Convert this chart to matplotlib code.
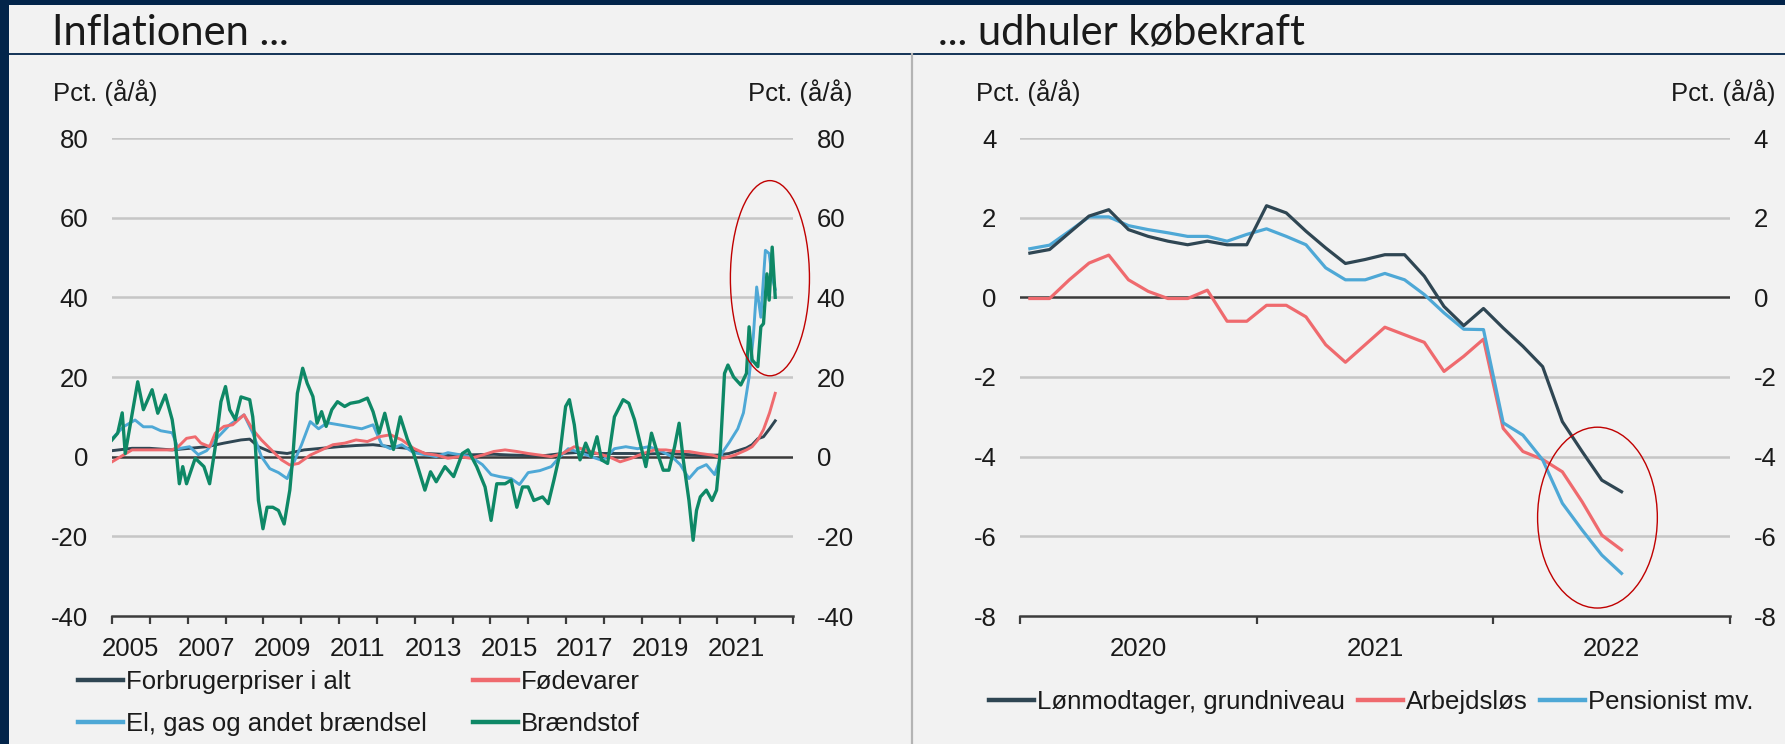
import numpy as np
import pandas as pd
import matplotlib
matplotlib.use("Agg")
import matplotlib.pyplot as plt
from matplotlib.patches import Ellipse, Rectangle
from matplotlib.lines import Line2D

plt.rcParams['font.family'] = ['Liberation Sans', 'DejaVu Sans']
plt.rcParams['axes.unicode_minus'] = False

# ---------------- data ----------------
left_title = "Inflationen ..."
right_title = "... udhuler købekraft"
unit_label = "Pct. (å/å)"

left_names = ["Forbrugerpriser i alt", "Fødevarer", "El, gas og andet brændsel", "Brændstof"]
right_names = ["Lønmodtager, grundniveau", "Arbejdsløs", "Pensionist mv."]

left_yticks = [-40, -20, 0, 20, 40, 60, 80]
right_yticks = [-8, -6, -4, -2, 0, 2, 4]
left_years = list(range(2005, 2024))
left_year_labels = ["2005", "2007", "2009", "2011", "2013", "2015", "2017", "2019", "2021"]
right_years = [2020, 2021, 2022, 2023]
right_year_labels = ["2020", "2021", "2022"]

# Forbrugerpriser i alt (decimal year, pct.)
cpi_t = [2005.00, 2005.53, 2005.99, 2006.59, 2007.05, 2007.50, 2007.96, 2008.41, 2008.64, 2008.87,
         2009.17, 2009.63, 2010.08, 2010.54, 2010.99, 2011.45, 2011.90, 2012.36, 2012.82, 2013.27,
         2013.73, 2014.18, 2014.64, 2015.09, 2015.55, 2016.00, 2016.46, 2016.91, 2017.37, 2017.82,
         2018.28, 2018.73, 2019.19, 2019.64, 2020.10, 2020.55, 2021.01, 2021.31, 2021.54, 2021.77,
         2021.92, 2022.07, 2022.22, 2022.38, 2022.53]
cpi_v = [1.5, 2.1, 2.1, 1.7, 2.1, 2.5, 3.4, 4.2, 4.4, 2.5,
         1.3, 0.8, 1.7, 2.1, 2.5, 2.8, 3.0, 2.5, 2.1, 0.8,
         0.6, 0.4, 0.5, 0.6, 0.4, 0.3, 0.3, 0.8, 1.1, 0.8,
         0.8, 0.8, 0.7, 0.8, 0.6, 0.3, 0.4, 0.8, 1.5, 2.2,
         3.0, 4.5, 5.0, 7.0, 9.0]

# Fødevarer
food_t = [2005.00, 2005.30, 2005.53, 2006.14, 2006.59, 2006.75, 2006.97, 2007.20, 2007.35, 2007.58,
          2007.73, 2007.96, 2008.19, 2008.49, 2008.72, 2008.95, 2009.17, 2009.48, 2009.70, 2009.93,
          2010.24, 2010.54, 2010.84, 2011.15, 2011.45, 2011.75, 2012.06, 2012.36, 2012.66, 2012.97,
          2013.27, 2013.57, 2013.88, 2014.18, 2014.48, 2014.79, 2015.09, 2015.39, 2015.70, 2016.00,
          2016.31, 2016.61, 2016.91, 2017.22, 2017.52, 2017.82, 2018.13, 2018.43, 2018.73, 2019.04,
          2019.34, 2019.64, 2019.95, 2020.25, 2020.55, 2020.86, 2021.16, 2021.46, 2021.77, 2021.92,
          2022.07, 2022.22, 2022.38, 2022.53]
food_v = [-1.3, 0.4, 1.7, 1.7, 1.7, 2.5, 4.6, 5.0, 3.4, 2.5,
          5.9, 7.6, 8.0, 10.5, 6.8, 4.2, 2.1, -0.8, -2.1, -1.7,
          0.4, 1.7, 3.0, 3.4, 4.2, 3.8, 5.0, 5.5, 4.2, 2.1,
          0.8, 0.4, -0.4, 0.0, -0.4, 0.4, 1.3, 1.7, 1.3, 0.8,
          0.4, 0.0, 0.8, 2.5, 1.7, 0.8, 0.0, -1.3, -0.4, 0.8,
          1.7, 1.7, 1.3, 1.3, 0.8, 0.4, -0.4, 0.4, 1.7, 2.5,
          4.2, 6.8, 11.0, 15.9]

# El, gas og andet brændsel
el_t = [2005.00, 2005.30, 2005.61, 2005.83, 2006.06, 2006.29, 2006.59, 2006.75, 2007.05, 2007.28,
        2007.50, 2007.81, 2008.11, 2008.49, 2008.72, 2008.95, 2009.17, 2009.40, 2009.63, 2009.78,
        2010.01, 2010.24, 2010.46, 2010.69, 2011.00, 2011.30, 2011.60, 2011.90, 2012.13, 2012.36,
        2012.66, 2012.97, 2013.27, 2013.57, 2013.88, 2014.18, 2014.48, 2014.79, 2015.02, 2015.24,
        2015.55, 2015.77, 2016.00, 2016.31, 2016.61, 2016.84, 2017.06, 2017.37, 2017.67, 2017.97,
        2018.28, 2018.58, 2018.89, 2019.19, 2019.49, 2019.80, 2020.02, 2020.25, 2020.48, 2020.71,
        2020.93, 2021.13, 2021.31, 2021.54, 2021.69, 2021.84, 2021.95, 2022.04, 2022.15, 2022.27,
        2022.37, 2022.45, 2022.53]
el_v = [4.5, 7.5, 9.2, 7.5, 7.5, 6.5, 6.0, 2.0, 2.5, 0.5,
        1.5, 5.0, 8.0, 10.5, 6.0, 0.0, -3.0, -4.0, -5.5, -2.0,
        3.0, 8.8, 7.0, 8.5, 8.0, 7.5, 7.0, 8.0, 3.0, 2.0,
        3.0, 1.0, 0.5, 0.0, 1.0, 0.5, 0.0, -2.0, -4.5, -5.0,
        -5.5, -7.0, -4.0, -3.5, -2.5, 0.0, 2.0, 1.0, 0.0, -1.0,
        2.0, 2.5, 2.0, 2.5, 1.5, 0.0, -2.0, -5.5, -3.0, -2.0,
        -4.5, 1.0, 3.5, 7.0, 11.0, 20.0, 30.0, 42.6, 35.0, 51.8,
        51.0, 45.0, 42.0]

# Brændstof
fuel_t = [2005.00, 2005.15, 2005.27, 2005.35, 2005.68, 2005.83, 2006.06, 2006.21, 2006.41, 2006.59,
          2006.67, 2006.78, 2006.87, 2006.97, 2007.20, 2007.43, 2007.58, 2007.73, 2007.88, 2008.00,
          2008.11, 2008.26, 2008.41, 2008.64, 2008.72, 2008.79, 2008.87, 2008.99, 2009.10, 2009.25,
          2009.40, 2009.55, 2009.70, 2009.78, 2009.90, 2010.04, 2010.16, 2010.31, 2010.42, 2010.54,
          2010.66, 2010.81, 2010.96, 2011.15, 2011.30, 2011.53, 2011.75, 2011.90, 2012.06, 2012.21,
          2012.44, 2012.62, 2012.81, 2012.97, 2013.27, 2013.42, 2013.57, 2013.80, 2014.03, 2014.26,
          2014.41, 2014.64, 2014.86, 2015.02, 2015.17, 2015.39, 2015.55, 2015.70, 2015.85, 2016.00,
          2016.15, 2016.38, 2016.53, 2016.68, 2016.84, 2016.99, 2017.09, 2017.22, 2017.29, 2017.37,
          2017.52, 2017.67, 2017.82, 2017.94, 2018.10, 2018.28, 2018.51, 2018.66, 2018.81, 2018.96,
          2019.11, 2019.26, 2019.42, 2019.57, 2019.72, 2019.87, 2019.99, 2020.10, 2020.25, 2020.36,
          2020.45, 2020.55, 2020.71, 2020.86, 2020.98, 2021.08, 2021.19, 2021.28, 2021.43, 2021.62,
          2021.77, 2021.84, 2021.92, 2022.00, 2022.07, 2022.15, 2022.22, 2022.31, 2022.37, 2022.45,
          2022.53]
fuel_v = [4.2, 5.9, 11.0, 0.8, 18.8, 11.8, 16.8, 10.9, 15.5, 9.3,
          4.0, -6.8, -2.5, -6.8, -0.4, -2.5, -6.8, 2.5, 13.8, 17.6,
          11.8, 9.3, 15.0, 14.3, 10.0, 2.6, -11.0, -18.1, -12.7, -12.7,
          -13.5, -16.9, -8.4, 0.0, 15.9, 22.2, 18.4, 15.1, 8.4, 11.3,
          7.6, 11.8, 13.8, 12.6, 13.4, 13.8, 14.7, 11.3, 5.9, 10.9,
          1.8, 10.0, 4.3, 0.9, -8.4, -3.8, -6.3, -2.5, -5.0, 0.8,
          1.7, -2.5, -7.6, -16.0, -6.8, -6.8, -5.9, -12.7, -7.6, -7.6,
          -11.0, -10.1, -11.8, -5.9, 0.8, 12.6, 14.3, 8.0, 2.6, -0.8,
          3.4, 0.0, 5.0, -0.8, -1.7, 10.0, 14.3, 13.4, 9.3, 3.4,
          -2.5, 5.9, 0.8, -3.4, -3.4, 2.5, 8.4, -0.8, -11.0, -21.0,
          -13.5, -10.1, -8.4, -11.0, -8.4, 1.7, 20.9, 23.0, 20.0, 18.0,
          20.9, 32.6, 24.3, 23.4, 22.6, 32.6, 33.4, 45.9, 39.3, 52.6,
          40.0]

# Right panel: monthly, Jan 2020 - Jul 2022
right_months = pd.period_range("2020-01", "2022-07", freq="M")
lon_v = [1.11, 1.20, 1.62, 2.04, 2.20, 1.70, 1.53, 1.41, 1.32, 1.41,
         1.32, 1.32, 2.30, 2.12, 1.66, 1.24, 0.85, 0.95, 1.07, 1.07,
         0.53, -0.23, -0.71, -0.28, -0.77, -1.23, -1.74, -3.12, -3.87, -4.59,
         -4.88]
arb_v = [-0.03, -0.03, 0.44, 0.86, 1.06, 0.44, 0.15, -0.03, -0.03, 0.18,
         -0.60, -0.60, -0.20, -0.20, -0.49, -1.19, -1.63, -1.19, -0.75, -0.94,
         -1.13, -1.86, -1.48, -1.05, -3.29, -3.87, -4.07, -4.38, -5.13, -5.97,
         -6.34]
pen_v = [1.22, 1.31, 1.66, 2.02, 2.02, 1.80, 1.70, 1.62, 1.53, 1.53,
         1.41, 1.58, 1.72, 1.53, 1.32, 0.74, 0.44, 0.44, 0.60, 0.44,
         0.07, -0.39, -0.80, -0.81, -3.15, -3.46, -4.08, -5.17, -5.84, -6.47,
         -6.93]

# ---------------- style ----------------
W, H, DPI = 1785, 744, 100
NAVY = '#02244a'
BG = '#f2f2f2'
C_DARK = '#2f4653'
C_RED = '#ef6a6e'
C_BLUE = '#4ea8d6'
C_GREEN = '#0e8866'
TXT = '#1a1a1a'
FS = 18.5

fig = plt.figure(figsize=(W / DPI, H / DPI), dpi=DPI)
fig.patch.set_facecolor(NAVY)
fig.add_artist(Rectangle((9 / W, 0), 1 - 9 / W, 1 - 5 / H, transform=fig.transFigure,
                         facecolor=BG, edgecolor='none', zorder=0))
fig.add_artist(Line2D([9 / W, 1], [1 - 54 / H] * 2, transform=fig.transFigure,
                      color=NAVY, lw=1.3, zorder=1))
fig.add_artist(Line2D([912 / W] * 2, [0, 1 - 54 / H], transform=fig.transFigure,
                      color='#b4b4b4', lw=1.6, zorder=1))


def px_rect(x0, x1, ytop, ybot):
    return [x0 / W, 1 - ybot / H, (x1 - x0) / W, (ybot - ytop) / H]


def style(ax, yticks, years, labels, label_pos):
    ax.set_facecolor('none')
    ax.set_ylim(yticks[0], yticks[-1])
    ax.set_yticks(yticks)
    ax.set_xlim(years[0], years[-1])
    for s in ['top', 'left', 'right']:
        ax.spines[s].set_visible(False)
    ax.spines['bottom'].set_color('#3c3c3c')
    ax.spines['bottom'].set_linewidth(1.8)
    ax.spines['bottom'].set_zorder(5)
    ax.tick_params(axis='y', left=False, right=False, labelleft=True, labelright=True,
                   length=0, pad=17, labelsize=FS, labelcolor=TXT)
    ax.set_xticks(years)
    ax.set_xticklabels([])
    ax.set_xticks(label_pos, minor=True)
    ax.set_xticklabels(labels, minor=True)
    ax.tick_params(axis='x', which='major', direction='out', length=6, width=1.6, color='#3c3c3c')
    ax.tick_params(axis='x', which='minor', length=0, pad=15, labelsize=FS, labelcolor=TXT)
    for v in yticks[1:]:
        if v == 0:
            ax.axhline(0, color='#3a3a3a', lw=1.8, zorder=1.5)
        else:
            ax.axhline(v, color='#c6c6c6', lw=1.8, zorder=1)


# ---------- left panel ----------
ax1 = fig.add_axes(px_rect(112, 793, 138, 616))
style(ax1, left_yticks, left_years, left_year_labels,
      [int(s) + 0.5 for s in left_year_labels])
lw = 2.1
l_cpi, = ax1.plot(cpi_t, cpi_v, color=C_DARK, lw=lw, zorder=3)
l_el, = ax1.plot(el_t, el_v, color=C_BLUE, lw=lw, zorder=3)
l_food, = ax1.plot(food_t, food_v, color=C_RED, lw=lw, zorder=3)
l_fuel, = ax1.plot(fuel_t, fuel_v, color=C_GREEN, lw=lw + 0.3, zorder=4)
ax1.add_patch(Ellipse((2022.39, 44.8), 2.09, 49, fill=False, edgecolor='#c00000',
                      lw=1.0, zorder=6, clip_on=False))

# ---------- right panel ----------
right_x = right_months.year + (right_months.month - 0.5) / 12
ax2 = fig.add_axes(px_rect(1020, 1730, 138, 616))
style(ax2, right_yticks, right_years, right_year_labels,
      [int(s) + 0.5 for s in right_year_labels])
lw2 = 2.3
r_arb, = ax2.plot(right_x, arb_v, color=C_RED, lw=lw2, zorder=3)
r_pen, = ax2.plot(right_x, pen_v, color=C_BLUE, lw=lw2, zorder=3)
r_lon, = ax2.plot(right_x, lon_v, color=C_DARK, lw=lw2, zorder=4)
ax2.add_patch(Ellipse((2022.44, -5.53), 0.506, 4.54, fill=False, edgecolor='#c00000',
                      lw=1.0, zorder=6, clip_on=False))

# ---------- titles & unit labels ----------
fig.text(52 / W, 1 - 45 / H, left_title, fontsize=30, family=['Lato', 'DejaVu Sans'],
         fontweight='normal', color='#1a1a1a', va='baseline', ha='left')
fig.text(938 / W, 1 - 45 / H, right_title, fontsize=30, family=['Lato', 'DejaVu Sans'],
         fontweight='normal', color='#1a1a1a', va='baseline', ha='left')
for xpx, ha in [(53, 'left'), (852, 'right'), (976, 'left'), (1775, 'right')]:
    fig.text(xpx / W, 1 - 101 / H, unit_label, fontsize=FS, color=TXT, va='baseline', ha=ha)

# ---------- legends ----------
leg1 = fig.legend([l_cpi, l_el, l_food, l_fuel],
                  [left_names[0], left_names[2], left_names[1], left_names[3]],
                  loc='center left', bbox_to_anchor=(78 / W, 1 - 703 / H), ncol=2,
                  frameon=False, fontsize=FS, handlelength=1.75, handletextpad=0.12,
                  columnspacing=1.8, labelspacing=0.72, borderpad=0, borderaxespad=0)
leg2 = fig.legend([r_lon, r_arb, r_pen], right_names,
                  loc='center left', bbox_to_anchor=(989 / W, 1 - 702 / H), ncol=3,
                  frameon=False, fontsize=FS, handlelength=1.75, handletextpad=0.12,
                  columnspacing=0.5, borderpad=0, borderaxespad=0)
for leg in (leg1, leg2):
    for t in leg.get_texts():
        t.set_color(TXT)
    for h in leg.get_lines():
        h.set_linewidth(3.2)

fig.savefig("out.png", dpi=DPI, facecolor=fig.get_facecolor())
